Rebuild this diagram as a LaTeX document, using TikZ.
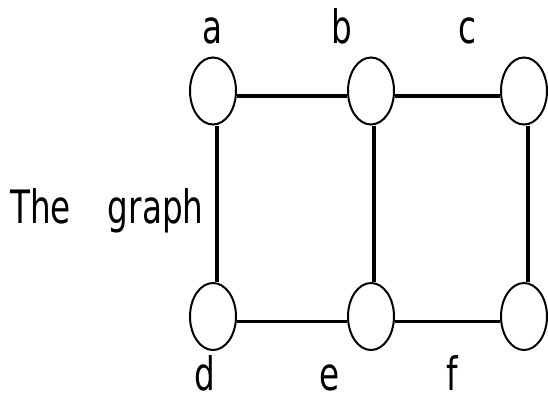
\documentclass[tikz,border=0pt]{standalone}
\usepackage{fontspec}
\usepackage{graphicx}
\setmainfont{DejaVu Sans}
\usetikzlibrary{shapes.geometric}
\tikzset{
  vert/.style={draw=black, ellipse, line width=2pt, minimum width=46pt, minimum height=67pt, inner sep=0pt},
  edge/.style={draw=black, line width=3.4pt},
  lbl/.style={inner sep=0pt, anchor=base, font=\fontsize{46}{50}\selectfont}
}
\newcommand{\sq}[1]{\scalebox{0.71}[1]{#1}}
\begin{document}
\begin{tikzpicture}[x=1pt,y=-1pt]
\useasboundingbox (0,0) rectangle (548,402);
\node[vert] (a) at (213,91) {};
\node[vert] (b) at (371,91) {};
\node[vert] (c) at (524,91) {};
\node[vert] (d) at (213,316.5) {};
\node[vert] (e) at (371,316.5) {};
\node[vert] (f) at (524,316.5) {};
\draw[edge] ([yshift=-5pt]a.east) -- ([yshift=-5pt]b.west);
\draw[edge] ([yshift=-5pt]b.east) -- ([yshift=-5pt]c.west);
\draw[edge] ([yshift=-5pt]d.east) -- ([yshift=-5pt]e.west);
\draw[edge] ([yshift=-5pt]e.east) -- ([yshift=-5pt]f.west);
\draw[edge] ([xshift=4pt]a.south) -- ([xshift=4pt]d.north);
\draw[edge] ([xshift=3pt]b.south) -- ([xshift=3pt]e.north);
\draw[edge] ([xshift=4pt]c.south) -- ([xshift=4pt]f.north);
\node[lbl] (la) at (213,43) {\sq{a}};
\node[lbl] (lb) at (342,43) {\sq{b}};
\node[lbl] (lc) at (467,43) {\sq{c}};
\node[lbl] (ld) at (205,390) {\sq{d}};
\node[lbl] (le) at (330,390) {\sq{e}};
\node[lbl] (lf) at (452,390) {\sq{f}};
\node[lbl, anchor=base west] (title) at (10,223) {\sq{The}\hspace{37pt}\sq{graph}};
\end{tikzpicture}
\end{document}
